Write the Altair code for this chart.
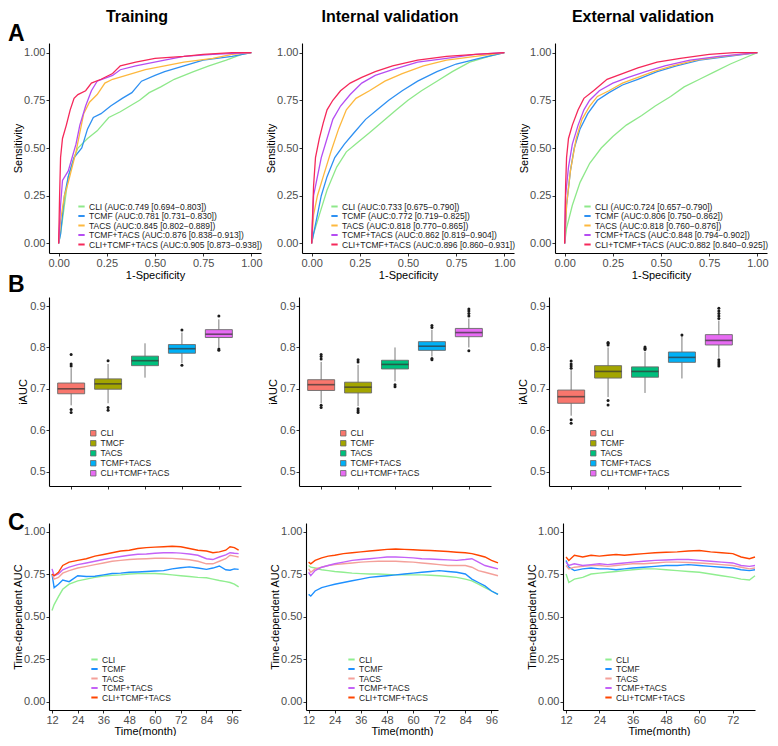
import altair as alt
import pandas as pd

FONT = "Liberation Sans"

GROUPS = ["CLI", "TCMF", "TACS", "TCMF+TACS", "CLI+TCMF+TACS"]
COHORTS = ["Training", "Internal validation", "External validation"]

# ---------------- Row A: ROC curves ----------------
ROC_COLORS = ["#8EE88A", "#2E90F2", "#FDB83E", "#B54DF2", "#F5285A"]
ROC_LABELS = {
    "Training": ["CLI (AUC:0.749 [0.694−0.803])", "TCMF (AUC:0.781 [0.731−0.830])",
                 "TACS (AUC:0.845 [0.802−0.889])", "TCMF+TACS (AUC:0.876 [0.838−0.913])",
                 "CLI+TCMF+TACS (AUC:0.905 [0.873−0.938])"],
    "Internal validation": ["CLI (AUC:0.733 [0.675−0.790])", "TCMF (AUC:0.772 [0.719−0.825])",
                            "TACS (AUC:0.818 [0.770−0.865])", "TCMF+TACS (AUC:0.862 [0.819−0.904])",
                            "CLI+TCMF+TACS (AUC:0.896 [0.860−0.931])"],
    "External validation": ["CLI (AUC:0.724 [0.657−0.790])", "TCMF (AUC:0.806 [0.750−0.862])",
                            "TACS (AUC:0.818 [0.760−0.876])", "TCMF+TACS (AUC:0.848 [0.794−0.902])",
                            "CLI+TCMF+TACS (AUC:0.882 [0.840−0.925])"],
}
ROC_FPR = {
    "Training": {
        "CLI": [0, .01, .03, .05, .08, .10, .15, .20, .26, .32, .37, .42, .47, .53, .60, .70, .78, .87, .95, 1],
        "TCMF": [0, .01, .03, .05, .08, .12, .15, .18, .22, .27, .33, .38, .43, .50, .55, .65, .75, .90, 1],
        "TACS": [0, .01, .03, .05, .07, .09, .11, .13, .16, .20, .24, .28, .35, .45, .55, .65, .80, .90, 1],
        "TCMF+TACS": [0, .01, .02, .05, .07, .09, .11, .14, .17, .20, .28, .32, .40, .55, .65, .80, 1],
        "CLI+TCMF+TACS": [0, .005, .01, .02, .04, .06, .08, .10, .14, .17, .22, .28, .32, .40, .50, .65, .75, .90, 1],
    },
    "Internal validation": {
        "CLI": [0, .01, .04, .08, .13, .18, .24, .30, .37, .44, .50, .57, .65, .73, .82, .92, 1],
        "TCMF": [0, .01, .03, .05, .08, .12, .17, .22, .28, .34, .40, .47, .55, .65, .75, .87, 1],
        "TACS": [0, .01, .03, .06, .10, .14, .18, .23, .30, .38, .47, .58, .70, .85, 1],
        "TCMF+TACS": [0, .01, .03, .05, .08, .11, .15, .20, .26, .33, .42, .55, .70, .85, 1],
        "CLI+TCMF+TACS": [0, .01, .02, .04, .06, .08, .11, .15, .20, .26, .33, .42, .55, .70, .85, 1],
    },
    "External validation": {
        "CLI": [0, .01, .04, .08, .13, .19, .25, .32, .40, .47, .55, .62, .70, .78, .86, .93, 1],
        "TCMF": [0, .01, .03, .05, .08, .12, .17, .23, .30, .38, .48, .58, .70, .85, 1],
        "TACS": [0, .01, .03, .06, .09, .13, .17, .23, .30, .38, .46, .56, .68, .82, 1],
        "TCMF+TACS": [0, .005, .02, .04, .07, .10, .13, .18, .25, .33, .42, .52, .65, .80, 1],
        "CLI+TCMF+TACS": [0, .005, .01, .02, .04, .07, .10, .15, .22, .30, .38, .48, .60, .75, .88, 1],
    },
}
ROC_TPR = {
    "Training": {
        "CLI": [0, .05, .20, .35, .45, .50, .55, .59, .66, .69, .72, .75, .79, .82, .86, .90, .93, .96, .99, 1],
        "TCMF": [0, .05, .25, .35, .45, .50, .60, .66, .68, .72, .76, .79, .85, .88, .90, .93, .96, .98, 1],
        "TACS": [0, .12, .25, .32, .40, .48, .58, .68, .74, .78, .84, .86, .88, .91, .93, .95, .97, .99, 1],
        "TCMF+TACS": [0, .20, .33, .38, .45, .52, .62, .72, .80, .85, .88, .91, .93, .96, .98, .99, 1],
        "CLI+TCMF+TACS": [0, .25, .45, .55, .62, .70, .76, .78, .80, .84, .86, .89, .93, .95, .97, .98, .99, 1, 1],
    },
    "Internal validation": {
        "CLI": [0, .05, .15, .28, .40, .48, .53, .58, .64, .70, .75, .80, .85, .90, .95, .98, 1],
        "TCMF": [0, .05, .15, .25, .35, .45, .52, .58, .65, .70, .75, .80, .85, .90, .94, .97, 1],
        "TACS": [0, .15, .25, .35, .48, .60, .70, .76, .80, .85, .89, .93, .96, .98, 1],
        "TCMF+TACS": [0, .25, .35, .45, .55, .65, .72, .78, .84, .88, .91, .95, .97, .99, 1],
        "CLI+TCMF+TACS": [0, .30, .45, .55, .63, .70, .75, .80, .84, .87, .90, .93, .96, .98, .99, 1],
    },
    "External validation": {
        "CLI": [0, .08, .20, .32, .42, .50, .56, .62, .67, .72, .77, .82, .86, .90, .94, .97, 1],
        "TCMF": [0, .20, .38, .50, .60, .68, .75, .79, .83, .86, .90, .93, .96, .98, 1],
        "TACS": [0, .20, .38, .55, .65, .72, .77, .80, .84, .87, .90, .93, .96, .98, 1],
        "TCMF+TACS": [0, .25, .40, .52, .62, .70, .75, .80, .84, .87, .90, .93, .96, .98, 1],
        "CLI+TCMF+TACS": [0, .30, .45, .55, .62, .70, .76, .80, .86, .89, .92, .95, .97, .99, 1, 1],
    },
}

# ---------------- Row B: iAUC boxplots ----------------
BOX_COLORS = ["#F8766D", "#A3A500", "#00BF7D", "#00B0F6", "#E76BF3"]
BOX_NAMES = {
    "Training": ["CLI", "TMCF", "TACS", "TCMF+TACS", "CLI+TCMF+TACS"],
    "Internal validation": GROUPS,
    "External validation": GROUPS,
}
BOX_Q1 = {"Training": [0.688, 0.699, 0.756, 0.786, 0.824],
          "Internal validation": [0.696, 0.690, 0.748, 0.793, 0.826],
          "External validation": [0.665, 0.726, 0.728, 0.764, 0.806]}
BOX_MED = {"Training": [0.700, 0.712, 0.768, 0.797, 0.832],
           "Internal validation": [0.710, 0.704, 0.759, 0.803, 0.836],
           "External validation": [0.681, 0.742, 0.742, 0.776, 0.817]}
BOX_Q3 = {"Training": [0.714, 0.724, 0.779, 0.807, 0.843],
          "Internal validation": [0.722, 0.716, 0.769, 0.814, 0.846],
          "External validation": [0.697, 0.756, 0.753, 0.789, 0.831]}
BOX_LO = {"Training": [0.660, 0.665, 0.727, 0.762, 0.800],
          "Internal validation": [0.665, 0.658, 0.718, 0.778, 0.800],
          "External validation": [0.635, 0.680, 0.690, 0.725, 0.775]}
BOX_HI = {"Training": [0.750, 0.760, 0.810, 0.836, 0.868],
          "Internal validation": [0.765, 0.758, 0.800, 0.843, 0.870],
          "External validation": [0.745, 0.800, 0.790, 0.828, 0.865]}
BOX_OUT_GROUP = {
    "Training": [0, 0, 0, 0, 0, 1, 1, 1, 3, 3, 4, 4, 4],
    "Internal validation": [0, 0, 0, 0, 0, 1, 1, 1, 1, 1, 2, 2, 3, 3, 3, 3, 4, 4, 4, 4, 4],
    "External validation": [0, 0, 0, 0, 0, 0, 1, 1, 1, 1, 1, 2, 2, 2, 3, 4, 4, 4, 4, 4, 4, 4, 4, 4],
}
BOX_OUT_VALUE = {
    "Training": [0.755, 0.760, 0.783, 0.650, 0.643, 0.768, 0.655, 0.648, 0.842, 0.757, 0.876, 0.796, 0.793],
    "Internal validation": [0.772, 0.778, 0.783, 0.655, 0.660, 0.765, 0.770, 0.652, 0.647, 0.643,
                            0.710, 0.705, 0.848, 0.853, 0.770, 0.773, 0.876, 0.882, 0.888, 0.893, 0.792],
    "External validation": [0.750, 0.755, 0.760, 0.767, 0.625, 0.617, 0.806, 0.810, 0.812, 0.672, 0.661,
                            0.795, 0.798, 0.801, 0.830, 0.870, 0.876, 0.882, 0.888, 0.895, 0.770, 0.765,
                            0.760, 0.755],
}

# ---------------- Row C: time-dependent AUC ----------------
TD_COLORS = ["#90EE90", "#1E90FF", "#F4A09A", "#C462F7", "#FF4500"]
TD_MONTHS = {
    "Training": [12, 13, 15, 17, 20, 24, 28, 32, 36, 40, 44, 48, 52, 56, 60, 64, 68, 72, 76, 80, 84, 87, 90, 93, 95, 97, 99],
    "Internal validation": [12, 13, 15, 18, 21, 24, 28, 32, 36, 40, 44, 48, 52, 56, 60, 64, 68, 72, 76, 80, 84, 87, 90, 93, 96, 99],
    "External validation": [12, 13, 15, 18, 21, 24, 27, 30, 33, 36, 40, 44, 48, 52, 56, 60, 64, 68, 72, 75, 78, 80],
}
TD_AUC = {
    "Training": {
        "CLI": [0.535, 0.57, 0.617, 0.66, 0.69, 0.71, 0.72, 0.73, 0.738, 0.742, 0.745, 0.75, 0.752, 0.753, 0.753,
                0.75, 0.745, 0.74, 0.735, 0.73, 0.728, 0.72, 0.712, 0.705, 0.70, 0.69, 0.674],
        "TCMF": [0.75, 0.67, 0.69, 0.715, 0.705, 0.74, 0.735, 0.737, 0.745, 0.753, 0.755, 0.76, 0.762, 0.765, 0.768,
                 0.77, 0.78, 0.787, 0.792, 0.785, 0.777, 0.785, 0.797, 0.775, 0.772, 0.78, 0.777],
        "TACS": [0.75, 0.72, 0.73, 0.755, 0.77, 0.785, 0.795, 0.805, 0.815, 0.825, 0.83, 0.835, 0.838, 0.84, 0.843,
                 0.843, 0.842, 0.838, 0.834, 0.825, 0.81, 0.81, 0.825, 0.84, 0.86, 0.855, 0.85],
        "TCMF+TACS": [0.78, 0.74, 0.75, 0.775, 0.79, 0.805, 0.815, 0.825, 0.835, 0.845, 0.853, 0.86, 0.866, 0.868, 0.872,
                      0.875, 0.876, 0.873, 0.868, 0.86, 0.84, 0.835, 0.85, 0.862, 0.875, 0.872, 0.87],
        "CLI+TCMF+TACS": [0.75, 0.74, 0.76, 0.80, 0.82, 0.83, 0.84, 0.855, 0.865, 0.875, 0.885, 0.89, 0.90, 0.905, 0.908,
                          0.91, 0.913, 0.91, 0.90, 0.89, 0.885, 0.875, 0.88, 0.89, 0.91, 0.905, 0.89],
    },
    "Internal validation": {
        "CLI": [0.80, 0.79, 0.785, 0.775, 0.77, 0.765, 0.76, 0.755, 0.752, 0.75, 0.75, 0.748, 0.745, 0.745, 0.745,
                0.745, 0.743, 0.74, 0.735, 0.73, 0.72, 0.71, 0.69, 0.67, 0.65, 0.63],
        "TCMF": [0.63, 0.62, 0.65, 0.67, 0.68, 0.69, 0.70, 0.71, 0.72, 0.73, 0.735, 0.74, 0.745, 0.75, 0.755,
                 0.76, 0.765, 0.77, 0.765, 0.76, 0.75, 0.72, 0.70, 0.68, 0.65, 0.63],
        "TACS": [0.78, 0.76, 0.78, 0.79, 0.80, 0.805, 0.81, 0.815, 0.82, 0.823, 0.825, 0.826, 0.825, 0.822, 0.82,
                 0.815, 0.81, 0.805, 0.80, 0.80, 0.80, 0.79, 0.77, 0.76, 0.75, 0.74],
        "TCMF+TACS": [0.76, 0.74, 0.77, 0.79, 0.80, 0.81, 0.82, 0.83, 0.835, 0.84, 0.845, 0.85, 0.85, 0.848, 0.845,
                      0.84, 0.838, 0.835, 0.833, 0.83, 0.835, 0.84, 0.82, 0.80, 0.79, 0.78],
        "CLI+TCMF+TACS": [0.82, 0.81, 0.83, 0.845, 0.855, 0.86, 0.87, 0.875, 0.88, 0.885, 0.89, 0.895, 0.897, 0.895, 0.893,
                          0.89, 0.888, 0.885, 0.882, 0.878, 0.875, 0.87, 0.86, 0.85, 0.83, 0.815],
    },
    "External validation": {
        "CLI": [0.75, 0.70, 0.72, 0.73, 0.75, 0.755, 0.76, 0.765, 0.77, 0.775, 0.78, 0.78, 0.775, 0.77, 0.765,
                0.76, 0.75, 0.74, 0.73, 0.72, 0.715, 0.74],
        "TCMF": [0.83, 0.79, 0.77, 0.78, 0.785, 0.78, 0.78, 0.775, 0.78, 0.785, 0.79, 0.795, 0.80, 0.80, 0.805,
                 0.80, 0.795, 0.79, 0.785, 0.775, 0.77, 0.775],
        "TACS": [0.80, 0.78, 0.79, 0.795, 0.80, 0.80, 0.795, 0.80, 0.805, 0.81, 0.81, 0.815, 0.82, 0.82, 0.818,
                 0.815, 0.81, 0.805, 0.80, 0.79, 0.78, 0.785],
        "TCMF+TACS": [0.82, 0.80, 0.81, 0.80, 0.805, 0.81, 0.805, 0.81, 0.815, 0.82, 0.825, 0.83, 0.832, 0.835, 0.835,
                      0.83, 0.825, 0.82, 0.815, 0.80, 0.795, 0.80],
        "CLI+TCMF+TACS": [0.85, 0.83, 0.86, 0.85, 0.86, 0.855, 0.86, 0.865, 0.86, 0.865, 0.87, 0.875, 0.878, 0.88, 0.885,
                          0.888, 0.88, 0.875, 0.87, 0.85, 0.84, 0.85],
    },
}
TD_XDOMAIN = {"Training": [10.6, 100.1], "Internal validation": [10.8, 99.0], "External validation": [10.9, 80.0]}
TD_XTICKS = {"Training": [12, 24, 36, 48, 60, 72, 84, 96],
             "Internal validation": [12, 24, 36, 48, 60, 72, 84, 96],
             "External validation": [12, 24, 36, 48, 60, 72]}

# ---------------- layout ----------------
W_A, H_A, SP_A = 212, 210, 41
W_B, H_B, SP_B = 192, 189, 58
W_C, H_C, SP_C = 192, 187, 65
LETTER_X = -41

LEG_COMMON = dict(title=None, orient="none", labelFont=FONT, labelFontSize=8.5, labelColor="#1a1a1a",
                  padding=0, labelOffset=3, labelLimit=400)


def text_layer(txt, x, y, size, align="left", opacity=1.0):
    return alt.Chart(pd.DataFrame({"t": [txt]})).mark_text(
        font=FONT, fontSize=size, fontWeight="bold", align=align, baseline="alphabetic",
        color="black", opacity=opacity
    ).encode(text="t:N", x=alt.value(x), y=alt.value(y))


def roc_panel(c, first):
    rows = []
    for g, lab in zip(GROUPS, ROC_LABELS[c]):
        for i, (a, b) in enumerate(zip(ROC_FPR[c][g], ROC_TPR[c][g])):
            rows.append({"series": lab, "fpr": a, "tpr": b, "i": i})
    df = pd.DataFrame(rows)
    ticks = [0, 0.25, 0.5, 0.75, 1]
    lines = alt.Chart(df).mark_line(strokeWidth=1.3).encode(
        x=alt.X("fpr:Q", scale=alt.Scale(domain=[-0.05, 1.05], nice=False, zero=False),
                axis=alt.Axis(values=ticks, format=".2f", title="1-Specificity", titlePadding=1)),
        y=alt.Y("tpr:Q", scale=alt.Scale(domain=[-0.05, 1.05], nice=False, zero=False),
                axis=alt.Axis(values=ticks, format=".2f", title="Sensitivity", titlePadding=0)),
        color=alt.Color("series:N", scale=alt.Scale(domain=ROC_LABELS[c], range=ROC_COLORS),
                        legend=alt.Legend(legendX=28, legendY=159, symbolType="stroke", symbolSize=40,
                                          symbolStrokeWidth=2, rowPadding=0.5, **LEG_COMMON)),
        order="i:Q",
    )
    layers = [lines, text_layer(c, 88, -21.5, 16, align="center")]
    if first:
        layers.append(text_layer("A", LETTER_X, -2, 23))
        # panel letter of the next row, sits just below this row
        layers.append(text_layer("B", LETTER_X, 248.7, 23))
    return alt.layer(*layers).properties(width=W_A, height=H_A)


def box_panel(c, first):
    names = BOX_NAMES[c]
    stats = pd.DataFrame({"g": names, "q1": BOX_Q1[c], "med": BOX_MED[c], "q3": BOX_Q3[c],
                          "lo": BOX_LO[c], "hi": BOX_HI[c]})
    outl = pd.DataFrame({"g": [names[k] for k in BOX_OUT_GROUP[c]], "v": BOX_OUT_VALUE[c]})
    xenc = alt.X("g:N", scale=alt.Scale(type="point", domain=names, padding=0.6),
                 axis=alt.Axis(labels=False, title=None, ticks=True))
    ysc = alt.Scale(domain=[0.465, 0.922], nice=False, zero=False)
    yax = alt.Axis(values=[0.5, 0.6, 0.7, 0.8, 0.9], format=".1f", title="iAUC", titlePadding=1)
    whisk = alt.Chart(stats).mark_rule(color="#7a7a7a", strokeWidth=1).encode(
        x=xenc, y=alt.Y("lo:Q", scale=ysc, axis=yax), y2="hi:Q")
    box = alt.Chart(stats).mark_bar(size=27, stroke="#6a6a6a", strokeWidth=0.9).encode(
        x=xenc, y=alt.Y("q1:Q", scale=ysc, axis=yax), y2="q3:Q",
        color=alt.Color("g:N", scale=alt.Scale(domain=names, range=BOX_COLORS),
                        legend=alt.Legend(legendX=40, legendY=132, symbolType="square", symbolSize=30,
                                          symbolStrokeColor="#6a6a6a", symbolStrokeWidth=0.8,
                                          rowPadding=0, **LEG_COMMON)))
    med = alt.Chart(stats).mark_tick(size=27, thickness=1.6, color="#333333").encode(
        x=xenc, y=alt.Y("med:Q", scale=ysc, axis=yax))
    pts = alt.Chart(outl).mark_circle(size=9, color="#1a1a1a", opacity=1).encode(
        x=xenc, y=alt.Y("v:Q", scale=ysc, axis=yax))
    layers = [whisk, box, med, pts]
    if first:
        # invisible spacer that sets the gap to the next row
        layers.append(text_layer(".", 10, 212.7, 10, opacity=0))
    return alt.layer(*layers).properties(width=W_B, height=H_B)


def td_panel(c, first):
    rows = []
    for g in GROUPS:
        for m, v in zip(TD_MONTHS[c], TD_AUC[c][g]):
            rows.append({"series": g, "m": m, "v": v})
    df = pd.DataFrame(rows)
    lines = alt.Chart(df).mark_line(strokeWidth=1.4).encode(
        x=alt.X("m:Q", scale=alt.Scale(domain=TD_XDOMAIN[c], nice=False, zero=False),
                axis=alt.Axis(values=TD_XTICKS[c], title="Time(month)", titlePadding=0)),
        y=alt.Y("v:Q", scale=alt.Scale(domain=[-0.05, 1.05], nice=False, zero=False),
                axis=alt.Axis(values=[0, 0.25, 0.5, 0.75, 1], format=".2f", title="Time-dependent AUC",
                              titlePadding=0)),
        color=alt.Color("series:N", scale=alt.Scale(domain=GROUPS, range=TD_COLORS),
                        legend=alt.Legend(legendX=41, legendY=132, symbolType="stroke", symbolSize=40,
                                          symbolStrokeWidth=2, rowPadding=0.5, **LEG_COMMON)),
    )
    layers = [lines]
    if first:
        layers.append(text_layer("C", LETTER_X, 7, 23))
    return alt.layer(*layers).properties(width=W_C, height=H_C)


def row(panels, spacing):
    return alt.hconcat(*panels, spacing=spacing, bounds="flush").resolve_scale(
        color="independent", x="independent", y="independent").resolve_legend(color="independent")


rowA = row([roc_panel(c, i == 0) for i, c in enumerate(COHORTS)], SP_A)
rowB = row([box_panel(c, i == 0) for i, c in enumerate(COHORTS)], SP_B)
rowC = row([td_panel(c, i == 0) for i, c in enumerate(COHORTS)], SP_C)

PAD = {"left": 0, "top": 0, "right": 0, "bottom": 0}

chart = alt.vconcat(rowA, rowB, rowC, spacing=0).resolve_scale(
    color="independent").resolve_legend(color="independent").properties(
    padding=PAD
).configure(font=FONT, padding=PAD).configure_view(stroke=None).configure_axis(
    labelFont=FONT, titleFont=FONT, labelFontSize=11, titleFontSize=11,
    labelColor="#4D4D4D", titleColor="black", titleFontWeight="normal",
    domainColor="black", domainWidth=1.1, tickColor="#333333", tickSize=3,
    labelPadding=1, grid=False
)

chart.save("out.html", embed_options={"renderer": "svg", "actions": False})
